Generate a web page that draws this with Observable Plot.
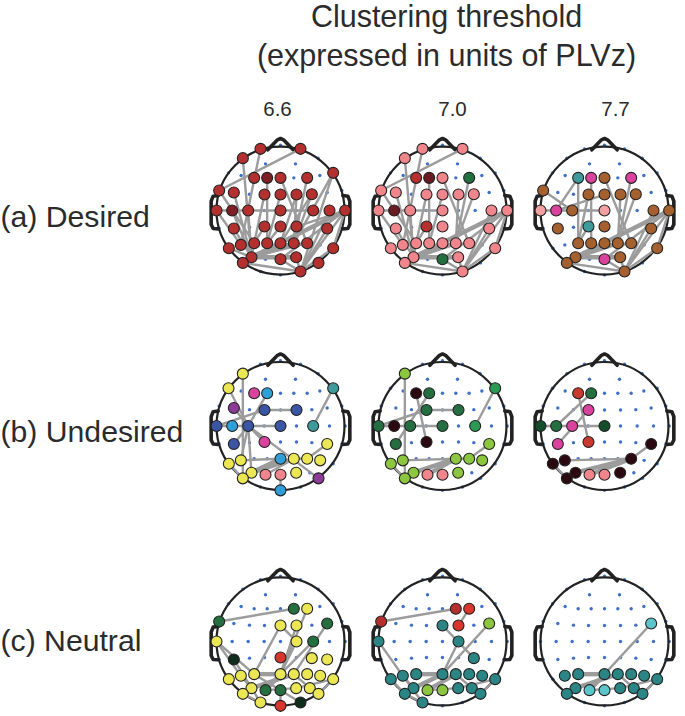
<!DOCTYPE html>
<html><head><meta charset="utf-8">
<script src="https://cdn.jsdelivr.net/npm/d3@7"></script>
<script src="https://cdn.jsdelivr.net/npm/@observablehq/plot@0.6"></script>
<style>html,body{margin:0;background:#fff}svg{display:block}</style>
</head><body><div id="chart"></div>
<script>
const thresholds = ["6.6", "7.0", "7.7"];
const conditions = ["(a) Desired", "(b) Undesired", "(c) Neutral"];
const titleText = "Clustering threshold\n(expressed in units of PLVz)";

// Scalp electrodes (head-centred units)
const electrodeNames = ["A1","A2","A3","B1","B2","C1","C2",
 "D1","D2","D3","D4","D5","D6","D7","D8","D9",
 "E1","E2","E3","E4","E5","E6","E7","E8","E9",
 "F1","F2","F3","F4","F5","F6","F7","F8","F9",
 "G1","G2","G3","G4","G5","G6","G7","G8","G9",
 "H1","H2","H3","H4","H5","H6","H7","H8","H9",
 "I1","I2","I3","I4","I5","J1","J2","K1","K2","K3"];
const electrodeX = [-60,0,60,-113,113,-45,45,
 -156,-118,-79,-40,0,40,80,118,158,
 -184,-140,-93,-48,0,48,94,140,184,
 -192,-145,-97,-49,0,48,98,147,194,
 -184,-140,-93,-48,0,48,94,140,184,
 -155,-119,-79,-40,0,40,80,119,158,
 -87,-45,0,47,88,-113,114,-60,0,60];
const electrodeY = [-185,-196,-185,-157,-157,-140,-140,
 -113,-105,-98,-98,-98,-98,-98,-105,-113,
 -60,-54,-49,-48,-48,-48,-49,-54,-60,
 0,0,0,0,0,0,0,0,0,
 54,54,50,48,48,48,50,54,54,
 113,103,98,98,98,98,98,103,113,
 140,146,146,140,140,157,157,183,193,183];

const clusterNames = ["maroon","darkMaroon","salmon","wine","green","brown","teal","magenta","blush",
 "yellow","purple","navy","sky","lime","emerald","forest","pine","soot","scarlet","petrol","aqua","ink","crimson"];
const clusterColors = ["#b3302f","#7d1f24","#f0858b","#6a1a20","#22703f","#a5602f","#3f9b9b","#d9429d","#f2a0a4",
 "#ebe653","#8b3a96","#3b55a5","#2f9fd8","#8cc63f","#2a9a55","#246e40","#154c2a","#2a0a10","#d8352f","#2b8585","#5cc5cc","#0f2d1a","#c8392f"];

const nodesA66 = [["maroon","A1 A3 B1 D3 D5 D7 D9 E1 E2 E4 E5 E6 E7 F1 F3 F5 F7 F8 F9 G2 G4 G5 G6 G8 H1 H2 H3 H4 H5 H6 H7 H9 I1 I3 I4 J1 J2 K3"],["darkMaroon","D4 F2"]];
const nodesA70 = [["salmon","A1 A3 B1 D5 E1 E2 E4 E5 E6 E7 F1 F3 F5 F8 F9 G2 G5 G8 H1 H2 H3 H4 H5 H6 H7 H9 I1 I4 J1 K3"],["maroon","D3 G4"],["wine","D4 F2"],["green","D7 I3"]];
const nodesA77 = [["brown","E1 F3 D5 E4 E5 E6 E7 F8 F9 G2 G5 G8 H3 H4 H5 H6 H7 H9 I1 I4 J1 K3"],["blush","F1 F5"],["magenta","F2 D4 D7 I3"],["teal","D3 G4"]];
const nodesB66 = [["yellow","B1 D1 G8 H1 H2 H6 H7 H8 I1 I4 J1"],["magenta","D3 G4"],["sky","D4 F2 H5 K2"],["teal","D9 F7"],["purple","E2 J2"],["navy","E4 E6 F1 F3 F5 G2"],["salmon","I2 I3"]];
const nodesB70 = [["lime","B1 G8 H1 H2 H6 H7 H8 I1 I4 J1"],["emerald","D9 F7"],["soot","D3 F2 G4"],["forest","D4 E4 E6 F1 F3 F5 G2"],["salmon","I2 I3"]];
const nodesB77 = [["crimson","D3 G4"],["forest","D4 F2"],["pine","F1 F5"],["magenta","E4 F3 G2"],["soot","G8 H1 H2 H7 I1 I4 J1"],["salmon","I2 I3"]];
const nodesC66 = [["forest","D6 E1 E8 F7 I2 I3"],["yellow","D7 E5 E6 F1 F6 G7 G8 H1 H2 H3 H5 H6 H7 H8 H9 I1 I4 I5 J1 J2 K1"],["ink","G2 K3"],["scarlet","G5 K2"]];
const nodesC70 = [["maroon","D6 E1"],["scarlet","D7 E6"],["petrol","E5 F1 F6 G7 H1 H2 H3 H5 H6 H7 H8 H9 I1 I4 I5 J1 J2 K1"],["lime","E8 I2 I3"]];
const nodesC77 = [["aqua","E8 I2 I3"],["petrol","H2 H3 H5 H6 H7 H8 H9 I1 I4 I5 J1 J2"]];

// Edges: "a-b" thin, "a=b" heavy
const edgesA66 = "A3-E1 A1-H2 B1-I1 D5-H7 D7-H6 D9-K3 D9-H6 E4-H3 D4-H4 E1-H3 E2-I1 F1-F3 F3-F5 F5-F7 F1-H2 F2-I1 F3-I1 G2-I1 G4-H3 G5-H4 E5-H4 E6-H5 E6-H6 E7-H6 E7-H5 F9=I1 F9-I3 F9-K3 F8-K3 H5-F9 G6-F9 G8-K3 H9-K3 H9-F9 J1-K3 I3-K3 I4-K3 I1=I4 I1=H6 I1-H7 H3-I1 H1-I1 J1-I1";
const edgesA70 = "A3-E1 A1-H2 B1-I1 D5-H7 D7-H6 E4-H3 D4-H4 E1-H3 E2-I1 F1-F3 F3-F5 F1-H2 F3-I1 G2-I1 G4-H3 E6-H6 E7-H6 E5-H4 F9=I1 F9-I3 F9-K3 F8-K3 H5-F9 G8-K3 H9-K3 H9-F9 J1-K3 I3-K3 I4-K3 I1=I4 I1=H6 H3-I1 J1-I1";
const edgesA77 = "E1-F3 F1-F3 F2-D3 F2-E5 D7-H6 D3-H3 D4-H4 E4-H3 G4-H3 F3-F5 D5-H7 E7-H6 E6-H6 F9=I1 F9-I3 F9-K3 F8-K3 H5-F9 G8-K3 H9-K3 H9-F9 J1-K3 I3-K3 I4-K3 I1=I4 I1=H6 J1-I1";
const edgesB66 = "B1-J1 D1-F3 E2-F3 E4-F1 E4-E6 D4-F3 F1-F5 F3-G2 F3-H2 F3-I1 G4-F3 F3-J2 D9-F7 G8-H7 H2-H5 H6-H7 I1=H6 I1=H5 I2-H6 I3-K2 H1-J1";
const edgesB70 = "B1-J1 D3-G4 E4-E6 E4-F1 D4-G2 F1-F5 D9-F7 G8-H7 H2-H6 H6-H7 I1=H6 I2=H6 H1-J1";
const edgesB77 = "D3-G4 F1-F5 D4-F2 E4-G2 H2-H7 G8-H7 I1=H7 I2=H7 H1-J1";
const edgesC66 = "E1-D6 D7-H5 E6-H5 E5-F6 E5-H3 E8-H6 F7-H5 F1-H2 F1-H3 G2-I1 H2-I1 H3=H5 H3-I3 I1=H6 I2=H5 I2-I4 I3-K2 I3-K3 F6-H5 H6-I5 H9-I4 J2-H9 K1-I1 J1-K1";
const edgesC70 = "E1-D6 D7-E6 E5-G7 F6-H5 E8-H5 F1-H2 H3=H5 I1=H5 I2=H6 J1-K1 H2-K1 H6-I5 H9-I4 J2-H9 H2-I1 I2-I4 J1-H1";
const edgesC77 = "E8-H5 H3=H5 I1=H6 I2=H5 H6-I5 H9-I4 J2-H9 J1-I1 I2-I4";

// Head outline parts
const noseX = [-38,-9,0,9,38];
const noseY = [-182,-212,-216,-212,-182];
const earX = [187,202,208,208,202,187];
const earY = [-45,-43,-28,42,54,55];

const nodeTables = [nodesA66,nodesA70,nodesA77,nodesB66,nodesB70,nodesB77,nodesC66,nodesC70,nodesC77];
const edgeTables = [edgesA66,edgesA70,edgesA77,edgesB66,edgesB70,edgesB77,edgesC66,edgesC70,edgesC77];

const pos = new Map(electrodeNames.map((n,i)=>[n,{x:electrodeX[i],y:electrodeY[i]}]));
const panels = conditions.flatMap(fy => thresholds.map(fx => ({fx, fy})));

const nodeRows = panels.flatMap((p,i)=>nodeTables[i].flatMap(([cluster,list])=>
  list.split(" ").map(n=>({...p,...pos.get(n),cluster}))));
const edgeRows = panels.flatMap((p,i)=>edgeTables[i].split(" ").map(e=>{
  const heavy = e.includes("="), [a,b] = e.split(/[-=]/);
  const A = pos.get(a), B = pos.get(b);
  return {...p,x1:A.x,y1:A.y,x2:B.x,y2:B.y,w:heavy?4.4:2.4};
}));
const elecRows = panels.flatMap(p=>electrodeNames.map(n=>({...p,...pos.get(n)})));
const outline = panels.flatMap(p=>[
  ...noseX.map((x,i)=>({...p,part:"nose",x,y:noseY[i]})),
  ...earX.map((x,i)=>({...p,part:"earR",x,y:earY[i]})),
  ...earX.map((x,i)=>({...p,part:"earL",x:-x,y:earY[i]}))
]);

const colOffsets = [-3,10,11]; // the reference's column labels sit off-centre
const rowOffsets = [7,6,0];

const chart = Plot.plot({
  width:685, height:716,
  marginLeft:199, marginRight:0, marginTop:140, marginBottom:5,
  style:{fontFamily:"'Liberation Sans',Arial,sans-serif", color:"#2b2b2b", background:"#fff", overflow:"visible"},
  x:{domain:[-243,243], axis:null},
  y:{domain:[210,-210], axis:null},
  fx:{domain:thresholds, padding:0, axis:null, round:false},
  fy:{domain:conditions, padding:0.35, axis:null, round:false},
  color:{type:"ordinal", domain:clusterNames, range:clusterColors},
  marks:[
    Plot.dot(elecRows,{x:"x",y:"y",fx:"fx",fy:"fy",r:1.7,fill:"#3f70c8"}),
    Plot.dot(panels,{x:()=>0,y:()=>0,fx:"fx",fy:"fy",r:64,stroke:"#222",strokeWidth:2.2,fill:"none"}),
    Plot.line(outline,{x:"x",y:"y",z:"part",fx:"fx",fy:"fy",stroke:"#222",strokeWidth:3.6,strokeLinejoin:"round",curve:"linear"}),
    Plot.link(edgeRows,{x1:"x1",y1:"y1",x2:"x2",y2:"y2",fx:"fx",fy:"fy",stroke:"#9c9c9c",strokeWidth:"w"}),
    Plot.dot(nodeRows,{x:"x",y:"y",fx:"fx",fy:"fy",r:5.5,fill:"cluster",stroke:"#222",strokeWidth:1.1}),
    Plot.text([titleText],{facet:"super",frameAnchor:"top",lineAnchor:"top",dx:4,dy:-142,fontSize:30.5,lineHeight:1.3,fill:"#2b2b2b"}),
    ...thresholds.map((t,i)=>Plot.text([t],{fx:()=>t,fy:()=>conditions[0],frameAnchor:"top",dx:colOffsets[i],dy:-39,fontSize:20.5,fill:"#2b2b2b"})),
    ...conditions.map((c,i)=>Plot.text([c],{fx:()=>thresholds[0],fy:()=>c,frameAnchor:"left",textAnchor:"start",dx:-199,dy:rowOffsets[i],fontSize:30.2,fill:"#2b2b2b"}))
  ]
});
document.getElementById("chart").append(chart);
</script></body></html>
